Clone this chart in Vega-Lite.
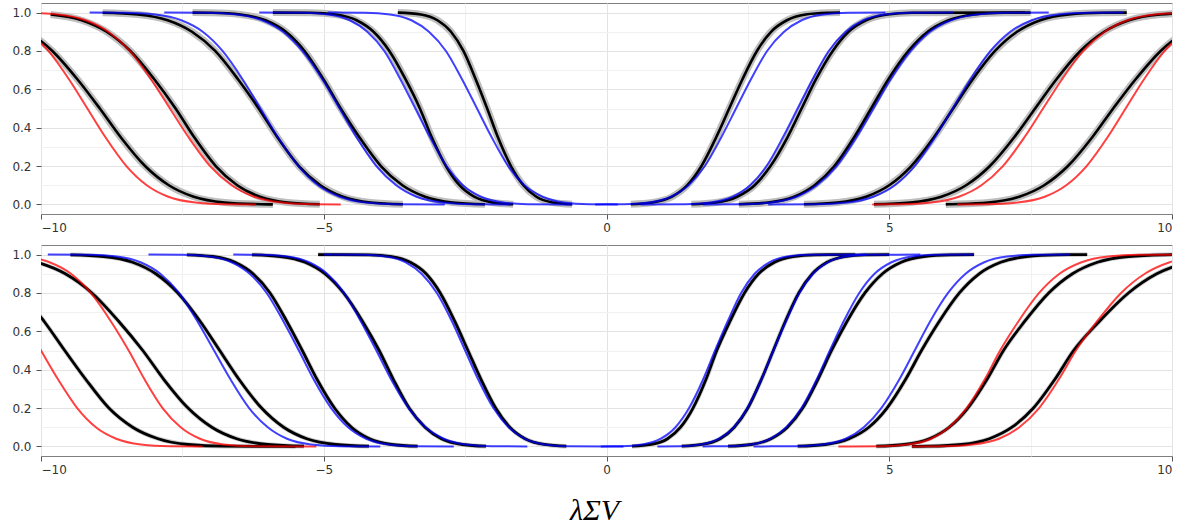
{
"$schema": "https://vega.github.io/schema/vega-lite/v6.json",
"padding": {"left": 11, "top": 2, "right": 0, "bottom": 0},
"background": "white",
"spacing": 31,
"bounds": "flush",
"datasets": {"curves": [
{"p":"top","s":"D1","k":"emp","x":-11.29,"y":0.99},{"p":"top","s":"D1","k":"emp","x":-10.71,"y":0.96},{"p":"top","s":"D1","k":"emp","x":-10.24,"y":0.9},{"p":"top","s":"D1","k":"emp","x":-9.8,"y":0.8},{"p":"top","s":"D1","k":"emp","x":-9.35,"y":0.65},{"p":"top","s":"D1","k":"emp","x":-8.96,"y":0.5},{"p":"top","s":"D1","k":"emp","x":-8.59,"y":0.35},{"p":"top","s":"D1","k":"emp","x":-8.16,"y":0.2},{"p":"top","s":"D1","k":"emp","x":-7.74,"y":0.1},{"p":"top","s":"D1","k":"emp","x":-7.3,"y":0.04},{"p":"top","s":"D1","k":"emp","x":-6.75,"y":0.01},{"p":"top","s":"D1","k":"emp","x":-6.11,"y":0.001},{"p":"top","s":"D1","k":"emp","x":-5.9,"y":0},
{"p":"top","s":"D1","k":"red","x":-11.09,"y":0.99},{"p":"top","s":"D1","k":"red","x":-10.62,"y":0.96},{"p":"top","s":"D1","k":"red","x":-10.23,"y":0.9},{"p":"top","s":"D1","k":"red","x":-9.87,"y":0.8},{"p":"top","s":"D1","k":"red","x":-9.5,"y":0.65},{"p":"top","s":"D1","k":"red","x":-9.18,"y":0.5},{"p":"top","s":"D1","k":"red","x":-8.86,"y":0.35},{"p":"top","s":"D1","k":"red","x":-8.49,"y":0.2},{"p":"top","s":"D1","k":"red","x":-8.13,"y":0.1},{"p":"top","s":"D1","k":"red","x":-7.75,"y":0.04},{"p":"top","s":"D1","k":"red","x":-7.27,"y":0.01},{"p":"top","s":"D1","k":"red","x":-6.72,"y":0.001},{"p":"top","s":"D1","k":"red","x":-6.2,"y":0},
{"p":"top","s":"D2","k":"emp","x":-9.83,"y":0.99},{"p":"top","s":"D2","k":"emp","x":-9.28,"y":0.96},{"p":"top","s":"D2","k":"emp","x":-8.84,"y":0.9},{"p":"top","s":"D2","k":"emp","x":-8.42,"y":0.8},{"p":"top","s":"D2","k":"emp","x":-7.99,"y":0.65},{"p":"top","s":"D2","k":"emp","x":-7.62,"y":0.5},{"p":"top","s":"D2","k":"emp","x":-7.29,"y":0.35},{"p":"top","s":"D2","k":"emp","x":-6.91,"y":0.2},{"p":"top","s":"D2","k":"emp","x":-6.53,"y":0.1},{"p":"top","s":"D2","k":"emp","x":-6.13,"y":0.04},{"p":"top","s":"D2","k":"emp","x":-5.64,"y":0.01},{"p":"top","s":"D2","k":"emp","x":-5.07,"y":0.001},
{"p":"top","s":"D2","k":"red","x":-10.27,"y":0.999},{"p":"top","s":"D2","k":"red","x":-9.7,"y":0.99},{"p":"top","s":"D2","k":"red","x":-9.21,"y":0.96},{"p":"top","s":"D2","k":"red","x":-8.81,"y":0.9},{"p":"top","s":"D2","k":"red","x":-8.43,"y":0.8},{"p":"top","s":"D2","k":"red","x":-8.05,"y":0.65},{"p":"top","s":"D2","k":"red","x":-7.72,"y":0.5},{"p":"top","s":"D2","k":"red","x":-7.39,"y":0.35},{"p":"top","s":"D2","k":"red","x":-7.01,"y":0.2},{"p":"top","s":"D2","k":"red","x":-6.63,"y":0.1},{"p":"top","s":"D2","k":"red","x":-6.23,"y":0.04},{"p":"top","s":"D2","k":"red","x":-5.74,"y":0.01},{"p":"top","s":"D2","k":"red","x":-5.17,"y":0.001},{"p":"top","s":"D2","k":"red","x":-4.7,"y":0},
{"p":"top","s":"D3","k":"emp","x":-8.91,"y":0.999},{"p":"top","s":"D3","k":"emp","x":-8.29,"y":0.99},{"p":"top","s":"D3","k":"emp","x":-7.76,"y":0.96},{"p":"top","s":"D3","k":"emp","x":-7.33,"y":0.9},{"p":"top","s":"D3","k":"emp","x":-6.92,"y":0.8},{"p":"top","s":"D3","k":"emp","x":-6.51,"y":0.65},{"p":"top","s":"D3","k":"emp","x":-6.15,"y":0.5},{"p":"top","s":"D3","k":"emp","x":-5.82,"y":0.35},{"p":"top","s":"D3","k":"emp","x":-5.44,"y":0.2},{"p":"top","s":"D3","k":"emp","x":-5.06,"y":0.1},{"p":"top","s":"D3","k":"emp","x":-4.66,"y":0.04},{"p":"top","s":"D3","k":"emp","x":-4.17,"y":0.01},{"p":"top","s":"D3","k":"emp","x":-3.6,"y":0.001},
{"p":"top","s":"D3","k":"blue","x":-9.14,"y":1},{"p":"top","s":"D3","k":"blue","x":-8.52,"y":0.999},{"p":"top","s":"D3","k":"blue","x":-7.98,"y":0.99},{"p":"top","s":"D3","k":"blue","x":-7.52,"y":0.96},{"p":"top","s":"D3","k":"blue","x":-7.14,"y":0.9},{"p":"top","s":"D3","k":"blue","x":-6.79,"y":0.8},{"p":"top","s":"D3","k":"blue","x":-6.43,"y":0.65},{"p":"top","s":"D3","k":"blue","x":-6.12,"y":0.5},{"p":"top","s":"D3","k":"blue","x":-5.81,"y":0.35},{"p":"top","s":"D3","k":"blue","x":-5.45,"y":0.2},{"p":"top","s":"D3","k":"blue","x":-5.1,"y":0.1},{"p":"top","s":"D3","k":"blue","x":-4.72,"y":0.04},{"p":"top","s":"D3","k":"blue","x":-4.26,"y":0.01},{"p":"top","s":"D3","k":"blue","x":-3.72,"y":0.001},{"p":"top","s":"D3","k":"blue","x":-2.86,"y":0},
{"p":"top","s":"D4","k":"emp","x":-7.32,"y":1},{"p":"top","s":"D4","k":"emp","x":-6.98,"y":0.999},{"p":"top","s":"D4","k":"emp","x":-6.47,"y":0.99},{"p":"top","s":"D4","k":"emp","x":-6.03,"y":0.96},{"p":"top","s":"D4","k":"emp","x":-5.67,"y":0.9},{"p":"top","s":"D4","k":"emp","x":-5.34,"y":0.8},{"p":"top","s":"D4","k":"emp","x":-5.0,"y":0.65},{"p":"top","s":"D4","k":"emp","x":-4.7,"y":0.5},{"p":"top","s":"D4","k":"emp","x":-4.37,"y":0.35},{"p":"top","s":"D4","k":"emp","x":-3.99,"y":0.2},{"p":"top","s":"D4","k":"emp","x":-3.61,"y":0.1},{"p":"top","s":"D4","k":"emp","x":-3.21,"y":0.04},{"p":"top","s":"D4","k":"emp","x":-2.72,"y":0.01},{"p":"top","s":"D4","k":"emp","x":-2.15,"y":0.001},
{"p":"top","s":"D4","k":"blue","x":-7.82,"y":1},{"p":"top","s":"D4","k":"blue","x":-7.06,"y":0.999},{"p":"top","s":"D4","k":"blue","x":-6.54,"y":0.99},{"p":"top","s":"D4","k":"blue","x":-6.09,"y":0.96},{"p":"top","s":"D4","k":"blue","x":-5.72,"y":0.9},{"p":"top","s":"D4","k":"blue","x":-5.38,"y":0.8},{"p":"top","s":"D4","k":"blue","x":-5.02,"y":0.65},{"p":"top","s":"D4","k":"blue","x":-4.72,"y":0.5},{"p":"top","s":"D4","k":"blue","x":-4.42,"y":0.35},{"p":"top","s":"D4","k":"blue","x":-4.07,"y":0.2},{"p":"top","s":"D4","k":"blue","x":-3.72,"y":0.1},{"p":"top","s":"D4","k":"blue","x":-3.36,"y":0.04},{"p":"top","s":"D4","k":"blue","x":-2.9,"y":0.01},{"p":"top","s":"D4","k":"blue","x":-2.38,"y":0.001},{"p":"top","s":"D4","k":"blue","x":-1.7,"y":0},
{"p":"top","s":"D5","k":"emp","x":-5.9,"y":1},{"p":"top","s":"D5","k":"emp","x":-5.22,"y":0.999},{"p":"top","s":"D5","k":"emp","x":-4.79,"y":0.99},{"p":"top","s":"D5","k":"emp","x":-4.42,"y":0.96},{"p":"top","s":"D5","k":"emp","x":-4.12,"y":0.9},{"p":"top","s":"D5","k":"emp","x":-3.84,"y":0.8},{"p":"top","s":"D5","k":"emp","x":-3.55,"y":0.65},{"p":"top","s":"D5","k":"emp","x":-3.3,"y":0.5},{"p":"top","s":"D5","k":"emp","x":-3.09,"y":0.35},{"p":"top","s":"D5","k":"emp","x":-2.84,"y":0.2},{"p":"top","s":"D5","k":"emp","x":-2.6,"y":0.1},{"p":"top","s":"D5","k":"emp","x":-2.34,"y":0.04},{"p":"top","s":"D5","k":"emp","x":-2.02,"y":0.01},{"p":"top","s":"D5","k":"emp","x":-1.65,"y":0.001},
{"p":"top","s":"D5","k":"blue","x":-6.14,"y":1},{"p":"top","s":"D5","k":"blue","x":-5.36,"y":0.999},{"p":"top","s":"D5","k":"blue","x":-4.92,"y":0.99},{"p":"top","s":"D5","k":"blue","x":-4.54,"y":0.96},{"p":"top","s":"D5","k":"blue","x":-4.23,"y":0.9},{"p":"top","s":"D5","k":"blue","x":-3.93,"y":0.8},{"p":"top","s":"D5","k":"blue","x":-3.64,"y":0.65},{"p":"top","s":"D5","k":"blue","x":-3.38,"y":0.5},{"p":"top","s":"D5","k":"blue","x":-3.12,"y":0.35},{"p":"top","s":"D5","k":"blue","x":-2.83,"y":0.2},{"p":"top","s":"D5","k":"blue","x":-2.54,"y":0.1},{"p":"top","s":"D5","k":"blue","x":-2.22,"y":0.04},{"p":"top","s":"D5","k":"blue","x":-1.83,"y":0.01},{"p":"top","s":"D5","k":"blue","x":-1.4,"y":0.001},{"p":"top","s":"D5","k":"blue","x":-0.6,"y":0},
{"p":"top","s":"D6","k":"emp","x":-3.69,"y":1},{"p":"top","s":"D6","k":"emp","x":-3.28,"y":0.99},{"p":"top","s":"D6","k":"emp","x":-2.99,"y":0.96},{"p":"top","s":"D6","k":"emp","x":-2.75,"y":0.9},{"p":"top","s":"D6","k":"emp","x":-2.53,"y":0.8},{"p":"top","s":"D6","k":"emp","x":-2.31,"y":0.65},{"p":"top","s":"D6","k":"emp","x":-2.11,"y":0.5},{"p":"top","s":"D6","k":"emp","x":-1.92,"y":0.35},{"p":"top","s":"D6","k":"emp","x":-1.69,"y":0.2},{"p":"top","s":"D6","k":"emp","x":-1.47,"y":0.1},{"p":"top","s":"D6","k":"emp","x":-1.24,"y":0.04},{"p":"top","s":"D6","k":"emp","x":-0.95,"y":0.01},{"p":"top","s":"D6","k":"emp","x":-0.61,"y":0.001},
{"p":"top","s":"D6","k":"blue","x":-4.93,"y":1},{"p":"top","s":"D6","k":"blue","x":-4.27,"y":0.999},{"p":"top","s":"D6","k":"blue","x":-3.83,"y":0.99},{"p":"top","s":"D6","k":"blue","x":-3.45,"y":0.96},{"p":"top","s":"D6","k":"blue","x":-3.14,"y":0.9},{"p":"top","s":"D6","k":"blue","x":-2.84,"y":0.8},{"p":"top","s":"D6","k":"blue","x":-2.55,"y":0.65},{"p":"top","s":"D6","k":"blue","x":-2.29,"y":0.5},{"p":"top","s":"D6","k":"blue","x":-2.03,"y":0.35},{"p":"top","s":"D6","k":"blue","x":-1.74,"y":0.2},{"p":"top","s":"D6","k":"blue","x":-1.45,"y":0.1},{"p":"top","s":"D6","k":"blue","x":-1.13,"y":0.04},{"p":"top","s":"D6","k":"blue","x":-0.75,"y":0.01},{"p":"top","s":"D6","k":"blue","x":-0.31,"y":0.001},{"p":"top","s":"D6","k":"blue","x":0.2,"y":0},
{"p":"top","s":"A","k":"emp","x":0.43,"y":0.001},{"p":"top","s":"A","k":"emp","x":0.82,"y":0.01},{"p":"top","s":"A","k":"emp","x":1.16,"y":0.04},{"p":"top","s":"A","k":"emp","x":1.43,"y":0.1},{"p":"top","s":"A","k":"emp","x":1.68,"y":0.2},{"p":"top","s":"A","k":"emp","x":1.94,"y":0.35},{"p":"top","s":"A","k":"emp","x":2.17,"y":0.5},{"p":"top","s":"A","k":"emp","x":2.4,"y":0.65},{"p":"top","s":"A","k":"emp","x":2.66,"y":0.8},{"p":"top","s":"A","k":"emp","x":2.91,"y":0.9},{"p":"top","s":"A","k":"emp","x":3.19,"y":0.96},{"p":"top","s":"A","k":"emp","x":3.52,"y":0.99},{"p":"top","s":"A","k":"emp","x":3.91,"y":0.999},{"p":"top","s":"A","k":"emp","x":4.13,"y":1},
{"p":"top","s":"A","k":"blue","x":-0.2,"y":0},{"p":"top","s":"A","k":"blue","x":0.31,"y":0.001},{"p":"top","s":"A","k":"blue","x":0.75,"y":0.01},{"p":"top","s":"A","k":"blue","x":1.14,"y":0.04},{"p":"top","s":"A","k":"blue","x":1.45,"y":0.1},{"p":"top","s":"A","k":"blue","x":1.74,"y":0.2},{"p":"top","s":"A","k":"blue","x":2.03,"y":0.35},{"p":"top","s":"A","k":"blue","x":2.29,"y":0.5},{"p":"top","s":"A","k":"blue","x":2.55,"y":0.65},{"p":"top","s":"A","k":"blue","x":2.84,"y":0.8},{"p":"top","s":"A","k":"blue","x":3.14,"y":0.9},{"p":"top","s":"A","k":"blue","x":3.45,"y":0.96},{"p":"top","s":"A","k":"blue","x":3.83,"y":0.99},{"p":"top","s":"A","k":"blue","x":4.27,"y":0.999},{"p":"top","s":"A","k":"blue","x":4.93,"y":1},
{"p":"top","s":"B","k":"emp","x":1.5,"y":0.001},{"p":"top","s":"B","k":"emp","x":1.94,"y":0.01},{"p":"top","s":"B","k":"emp","x":2.31,"y":0.04},{"p":"top","s":"B","k":"emp","x":2.62,"y":0.1},{"p":"top","s":"B","k":"emp","x":2.9,"y":0.2},{"p":"top","s":"B","k":"emp","x":3.2,"y":0.35},{"p":"top","s":"B","k":"emp","x":3.45,"y":0.5},{"p":"top","s":"B","k":"emp","x":3.7,"y":0.65},{"p":"top","s":"B","k":"emp","x":4.0,"y":0.8},{"p":"top","s":"B","k":"emp","x":4.28,"y":0.9},{"p":"top","s":"B","k":"emp","x":4.59,"y":0.96},{"p":"top","s":"B","k":"emp","x":4.97,"y":0.99},{"p":"top","s":"B","k":"emp","x":5.4,"y":0.999},{"p":"top","s":"B","k":"emp","x":7.4,"y":1},
{"p":"top","s":"B","k":"blue","x":0.6,"y":0},{"p":"top","s":"B","k":"blue","x":1.4,"y":0.001},{"p":"top","s":"B","k":"blue","x":1.84,"y":0.01},{"p":"top","s":"B","k":"blue","x":2.23,"y":0.04},{"p":"top","s":"B","k":"blue","x":2.54,"y":0.1},{"p":"top","s":"B","k":"blue","x":2.83,"y":0.2},{"p":"top","s":"B","k":"blue","x":3.12,"y":0.35},{"p":"top","s":"B","k":"blue","x":3.38,"y":0.5},{"p":"top","s":"B","k":"blue","x":3.64,"y":0.65},{"p":"top","s":"B","k":"blue","x":3.93,"y":0.8},{"p":"top","s":"B","k":"blue","x":4.23,"y":0.9},{"p":"top","s":"B","k":"blue","x":4.54,"y":0.96},{"p":"top","s":"B","k":"blue","x":4.92,"y":0.99},{"p":"top","s":"B","k":"blue","x":5.36,"y":0.999},{"p":"top","s":"B","k":"blue","x":6.14,"y":1},
{"p":"top","s":"C","k":"emp","x":2.34,"y":0.001},{"p":"top","s":"C","k":"emp","x":2.86,"y":0.01},{"p":"top","s":"C","k":"emp","x":3.32,"y":0.04},{"p":"top","s":"C","k":"emp","x":3.68,"y":0.1},{"p":"top","s":"C","k":"emp","x":4.03,"y":0.2},{"p":"top","s":"C","k":"emp","x":4.38,"y":0.35},{"p":"top","s":"C","k":"emp","x":4.68,"y":0.5},{"p":"top","s":"C","k":"emp","x":4.98,"y":0.65},{"p":"top","s":"C","k":"emp","x":5.34,"y":0.8},{"p":"top","s":"C","k":"emp","x":5.68,"y":0.9},{"p":"top","s":"C","k":"emp","x":6.05,"y":0.96},{"p":"top","s":"C","k":"emp","x":6.5,"y":0.99},{"p":"top","s":"C","k":"emp","x":7.02,"y":0.999},{"p":"top","s":"C","k":"emp","x":7.5,"y":1},
{"p":"top","s":"C","k":"blue","x":1.7,"y":0},{"p":"top","s":"C","k":"blue","x":2.38,"y":0.001},{"p":"top","s":"C","k":"blue","x":2.9,"y":0.01},{"p":"top","s":"C","k":"blue","x":3.36,"y":0.04},{"p":"top","s":"C","k":"blue","x":3.72,"y":0.1},{"p":"top","s":"C","k":"blue","x":4.07,"y":0.2},{"p":"top","s":"C","k":"blue","x":4.42,"y":0.35},{"p":"top","s":"C","k":"blue","x":4.72,"y":0.5},{"p":"top","s":"C","k":"blue","x":5.02,"y":0.65},{"p":"top","s":"C","k":"blue","x":5.38,"y":0.8},{"p":"top","s":"C","k":"blue","x":5.72,"y":0.9},{"p":"top","s":"C","k":"blue","x":6.09,"y":0.96},{"p":"top","s":"C","k":"blue","x":6.54,"y":0.99},{"p":"top","s":"C","k":"blue","x":7.06,"y":0.999},{"p":"top","s":"C","k":"blue","x":7.82,"y":1},
{"p":"top","s":"D","k":"emp","x":3.49,"y":0.001},{"p":"top","s":"D","k":"emp","x":4.08,"y":0.01},{"p":"top","s":"D","k":"emp","x":4.59,"y":0.04},{"p":"top","s":"D","k":"emp","x":5.0,"y":0.1},{"p":"top","s":"D","k":"emp","x":5.39,"y":0.2},{"p":"top","s":"D","k":"emp","x":5.79,"y":0.35},{"p":"top","s":"D","k":"emp","x":6.13,"y":0.5},{"p":"top","s":"D","k":"emp","x":6.47,"y":0.65},{"p":"top","s":"D","k":"emp","x":6.87,"y":0.8},{"p":"top","s":"D","k":"emp","x":7.26,"y":0.9},{"p":"top","s":"D","k":"emp","x":7.67,"y":0.96},{"p":"top","s":"D","k":"emp","x":8.18,"y":0.99},{"p":"top","s":"D","k":"emp","x":8.77,"y":0.999},{"p":"top","s":"D","k":"emp","x":9.2,"y":1},
{"p":"top","s":"D","k":"blue","x":2.86,"y":0},{"p":"top","s":"D","k":"blue","x":3.72,"y":0.001},{"p":"top","s":"D","k":"blue","x":4.26,"y":0.01},{"p":"top","s":"D","k":"blue","x":4.72,"y":0.04},{"p":"top","s":"D","k":"blue","x":5.1,"y":0.1},{"p":"top","s":"D","k":"blue","x":5.45,"y":0.2},{"p":"top","s":"D","k":"blue","x":5.81,"y":0.35},{"p":"top","s":"D","k":"blue","x":6.12,"y":0.5},{"p":"top","s":"D","k":"blue","x":6.43,"y":0.65},{"p":"top","s":"D","k":"blue","x":6.79,"y":0.8},{"p":"top","s":"D","k":"blue","x":7.14,"y":0.9},{"p":"top","s":"D","k":"blue","x":7.52,"y":0.96},{"p":"top","s":"D","k":"blue","x":7.98,"y":0.99},{"p":"top","s":"D","k":"blue","x":8.52,"y":0.999},{"p":"top","s":"D","k":"blue","x":9.14,"y":1},
{"p":"top","s":"E","k":"emp","x":4.73,"y":0.001},{"p":"top","s":"E","k":"emp","x":5.37,"y":0.01},{"p":"top","s":"E","k":"emp","x":5.92,"y":0.04},{"p":"top","s":"E","k":"emp","x":6.36,"y":0.1},{"p":"top","s":"E","k":"emp","x":6.78,"y":0.2},{"p":"top","s":"E","k":"emp","x":7.21,"y":0.35},{"p":"top","s":"E","k":"emp","x":7.58,"y":0.5},{"p":"top","s":"E","k":"emp","x":7.95,"y":0.65},{"p":"top","s":"E","k":"emp","x":8.38,"y":0.8},{"p":"top","s":"E","k":"emp","x":8.8,"y":0.9},{"p":"top","s":"E","k":"emp","x":9.24,"y":0.96},{"p":"top","s":"E","k":"emp","x":9.79,"y":0.99},{"p":"top","s":"E","k":"emp","x":10.43,"y":0.999},
{"p":"top","s":"E","k":"red","x":4.7,"y":0},{"p":"top","s":"E","k":"red","x":5.17,"y":0.001},{"p":"top","s":"E","k":"red","x":5.74,"y":0.01},{"p":"top","s":"E","k":"red","x":6.23,"y":0.04},{"p":"top","s":"E","k":"red","x":6.63,"y":0.1},{"p":"top","s":"E","k":"red","x":7.01,"y":0.2},{"p":"top","s":"E","k":"red","x":7.39,"y":0.35},{"p":"top","s":"E","k":"red","x":7.72,"y":0.5},{"p":"top","s":"E","k":"red","x":8.05,"y":0.65},{"p":"top","s":"E","k":"red","x":8.43,"y":0.8},{"p":"top","s":"E","k":"red","x":8.81,"y":0.9},{"p":"top","s":"E","k":"red","x":9.21,"y":0.96},{"p":"top","s":"E","k":"red","x":9.7,"y":0.99},{"p":"top","s":"E","k":"red","x":10.27,"y":0.999},
{"p":"top","s":"F","k":"emp","x":6.0,"y":0},{"p":"top","s":"F","k":"emp","x":6.11,"y":0.001},{"p":"top","s":"F","k":"emp","x":6.75,"y":0.01},{"p":"top","s":"F","k":"emp","x":7.3,"y":0.04},{"p":"top","s":"F","k":"emp","x":7.74,"y":0.1},{"p":"top","s":"F","k":"emp","x":8.16,"y":0.2},{"p":"top","s":"F","k":"emp","x":8.59,"y":0.35},{"p":"top","s":"F","k":"emp","x":8.96,"y":0.5},{"p":"top","s":"F","k":"emp","x":9.35,"y":0.65},{"p":"top","s":"F","k":"emp","x":9.8,"y":0.8},{"p":"top","s":"F","k":"emp","x":10.24,"y":0.9},{"p":"top","s":"F","k":"emp","x":10.71,"y":0.96},
{"p":"top","s":"F","k":"red","x":6.2,"y":0},{"p":"top","s":"F","k":"red","x":6.72,"y":0.001},{"p":"top","s":"F","k":"red","x":7.27,"y":0.01},{"p":"top","s":"F","k":"red","x":7.75,"y":0.04},{"p":"top","s":"F","k":"red","x":8.13,"y":0.1},{"p":"top","s":"F","k":"red","x":8.49,"y":0.2},{"p":"top","s":"F","k":"red","x":8.86,"y":0.35},{"p":"top","s":"F","k":"red","x":9.18,"y":0.5},{"p":"top","s":"F","k":"red","x":9.5,"y":0.65},{"p":"top","s":"F","k":"red","x":9.87,"y":0.8},{"p":"top","s":"F","k":"red","x":10.23,"y":0.9},{"p":"top","s":"F","k":"red","x":10.62,"y":0.96},
{"p":"bottom","s":"D1","k":"emp","x":-10.76,"y":0.9},{"p":"bottom","s":"D1","k":"emp","x":-10.35,"y":0.8},{"p":"bottom","s":"D1","k":"emp","x":-9.94,"y":0.65},{"p":"bottom","s":"D1","k":"emp","x":-9.58,"y":0.5},{"p":"bottom","s":"D1","k":"emp","x":-9.21,"y":0.35},{"p":"bottom","s":"D1","k":"emp","x":-8.8,"y":0.2},{"p":"bottom","s":"D1","k":"emp","x":-8.38,"y":0.1},{"p":"bottom","s":"D1","k":"emp","x":-7.93,"y":0.04},{"p":"bottom","s":"D1","k":"emp","x":-7.4,"y":0.01},{"p":"bottom","s":"D1","k":"emp","x":-6.78,"y":0.001},{"p":"bottom","s":"D1","k":"emp","x":-5.5,"y":0},
{"p":"bottom","s":"D1","k":"red","x":-10.64,"y":0.8},{"p":"bottom","s":"D1","k":"red","x":-10.3,"y":0.65},{"p":"bottom","s":"D1","k":"red","x":-10.0,"y":0.5},{"p":"bottom","s":"D1","k":"red","x":-9.7,"y":0.35},{"p":"bottom","s":"D1","k":"red","x":-9.36,"y":0.2},{"p":"bottom","s":"D1","k":"red","x":-9.03,"y":0.1},{"p":"bottom","s":"D1","k":"red","x":-8.67,"y":0.04},{"p":"bottom","s":"D1","k":"red","x":-8.23,"y":0.01},{"p":"bottom","s":"D1","k":"red","x":-7.72,"y":0.001},{"p":"bottom","s":"D1","k":"red","x":-7.14,"y":0},
{"p":"bottom","s":"D2","k":"emp","x":-10.69,"y":0.99},{"p":"bottom","s":"D2","k":"emp","x":-10.07,"y":0.96},{"p":"bottom","s":"D2","k":"emp","x":-9.57,"y":0.9},{"p":"bottom","s":"D2","k":"emp","x":-9.1,"y":0.8},{"p":"bottom","s":"D2","k":"emp","x":-8.62,"y":0.65},{"p":"bottom","s":"D2","k":"emp","x":-8.2,"y":0.5},{"p":"bottom","s":"D2","k":"emp","x":-7.83,"y":0.35},{"p":"bottom","s":"D2","k":"emp","x":-7.4,"y":0.2},{"p":"bottom","s":"D2","k":"emp","x":-6.98,"y":0.1},{"p":"bottom","s":"D2","k":"emp","x":-6.54,"y":0.04},{"p":"bottom","s":"D2","k":"emp","x":-5.99,"y":0.01},{"p":"bottom","s":"D2","k":"emp","x":-5.35,"y":0.001},
{"p":"bottom","s":"D2","k":"red","x":-10.85,"y":0.999},{"p":"bottom","s":"D2","k":"red","x":-10.31,"y":0.99},{"p":"bottom","s":"D2","k":"red","x":-9.85,"y":0.96},{"p":"bottom","s":"D2","k":"red","x":-9.47,"y":0.9},{"p":"bottom","s":"D2","k":"red","x":-9.12,"y":0.8},{"p":"bottom","s":"D2","k":"red","x":-8.76,"y":0.65},{"p":"bottom","s":"D2","k":"red","x":-8.45,"y":0.5},{"p":"bottom","s":"D2","k":"red","x":-8.17,"y":0.35},{"p":"bottom","s":"D2","k":"red","x":-7.85,"y":0.2},{"p":"bottom","s":"D2","k":"red","x":-7.53,"y":0.1},{"p":"bottom","s":"D2","k":"red","x":-7.19,"y":0.04},{"p":"bottom","s":"D2","k":"red","x":-6.77,"y":0.01},{"p":"bottom","s":"D2","k":"red","x":-6.29,"y":0.001},{"p":"bottom","s":"D2","k":"red","x":-5.13,"y":0},
{"p":"bottom","s":"D3","k":"emp","x":-9.48,"y":0.999},{"p":"bottom","s":"D3","k":"emp","x":-8.89,"y":0.99},{"p":"bottom","s":"D3","k":"emp","x":-8.38,"y":0.96},{"p":"bottom","s":"D3","k":"emp","x":-7.97,"y":0.9},{"p":"bottom","s":"D3","k":"emp","x":-7.58,"y":0.8},{"p":"bottom","s":"D3","k":"emp","x":-7.18,"y":0.65},{"p":"bottom","s":"D3","k":"emp","x":-6.84,"y":0.5},{"p":"bottom","s":"D3","k":"emp","x":-6.5,"y":0.35},{"p":"bottom","s":"D3","k":"emp","x":-6.1,"y":0.2},{"p":"bottom","s":"D3","k":"emp","x":-5.71,"y":0.1},{"p":"bottom","s":"D3","k":"emp","x":-5.3,"y":0.04},{"p":"bottom","s":"D3","k":"emp","x":-4.79,"y":0.01},{"p":"bottom","s":"D3","k":"emp","x":-4.2,"y":0.001},
{"p":"bottom","s":"D3","k":"blue","x":-9.88,"y":1},{"p":"bottom","s":"D3","k":"blue","x":-9.16,"y":0.999},{"p":"bottom","s":"D3","k":"blue","x":-8.66,"y":0.99},{"p":"bottom","s":"D3","k":"blue","x":-8.24,"y":0.96},{"p":"bottom","s":"D3","k":"blue","x":-7.89,"y":0.9},{"p":"bottom","s":"D3","k":"blue","x":-7.56,"y":0.8},{"p":"bottom","s":"D3","k":"blue","x":-7.23,"y":0.65},{"p":"bottom","s":"D3","k":"blue","x":-6.94,"y":0.5},{"p":"bottom","s":"D3","k":"blue","x":-6.65,"y":0.35},{"p":"bottom","s":"D3","k":"blue","x":-6.32,"y":0.2},{"p":"bottom","s":"D3","k":"blue","x":-5.99,"y":0.1},{"p":"bottom","s":"D3","k":"blue","x":-5.65,"y":0.04},{"p":"bottom","s":"D3","k":"blue","x":-5.22,"y":0.01},{"p":"bottom","s":"D3","k":"blue","x":-4.72,"y":0.001},{"p":"bottom","s":"D3","k":"blue","x":-4.0,"y":0},
{"p":"bottom","s":"D4","k":"emp","x":-7.42,"y":0.999},{"p":"bottom","s":"D4","k":"emp","x":-6.96,"y":0.99},{"p":"bottom","s":"D4","k":"emp","x":-6.57,"y":0.96},{"p":"bottom","s":"D4","k":"emp","x":-6.25,"y":0.9},{"p":"bottom","s":"D4","k":"emp","x":-5.95,"y":0.8},{"p":"bottom","s":"D4","k":"emp","x":-5.65,"y":0.65},{"p":"bottom","s":"D4","k":"emp","x":-5.38,"y":0.5},{"p":"bottom","s":"D4","k":"emp","x":-5.12,"y":0.35},{"p":"bottom","s":"D4","k":"emp","x":-4.81,"y":0.2},{"p":"bottom","s":"D4","k":"emp","x":-4.51,"y":0.1},{"p":"bottom","s":"D4","k":"emp","x":-4.19,"y":0.04},{"p":"bottom","s":"D4","k":"emp","x":-3.8,"y":0.01},{"p":"bottom","s":"D4","k":"emp","x":-3.34,"y":0.001},
{"p":"bottom","s":"D4","k":"blue","x":-8.1,"y":1},{"p":"bottom","s":"D4","k":"blue","x":-7.48,"y":0.999},{"p":"bottom","s":"D4","k":"blue","x":-7.02,"y":0.99},{"p":"bottom","s":"D4","k":"blue","x":-6.63,"y":0.96},{"p":"bottom","s":"D4","k":"blue","x":-6.31,"y":0.9},{"p":"bottom","s":"D4","k":"blue","x":-6.01,"y":0.8},{"p":"bottom","s":"D4","k":"blue","x":-5.71,"y":0.65},{"p":"bottom","s":"D4","k":"blue","x":-5.44,"y":0.5},{"p":"bottom","s":"D4","k":"blue","x":-5.18,"y":0.35},{"p":"bottom","s":"D4","k":"blue","x":-4.87,"y":0.2},{"p":"bottom","s":"D4","k":"blue","x":-4.57,"y":0.1},{"p":"bottom","s":"D4","k":"blue","x":-4.25,"y":0.04},{"p":"bottom","s":"D4","k":"blue","x":-3.86,"y":0.01},{"p":"bottom","s":"D4","k":"blue","x":-3.4,"y":0.001},{"p":"bottom","s":"D4","k":"blue","x":-2.7,"y":0},
{"p":"bottom","s":"D5","k":"emp","x":-6.27,"y":0.999},{"p":"bottom","s":"D5","k":"emp","x":-5.77,"y":0.99},{"p":"bottom","s":"D5","k":"emp","x":-5.33,"y":0.96},{"p":"bottom","s":"D5","k":"emp","x":-4.98,"y":0.9},{"p":"bottom","s":"D5","k":"emp","x":-4.65,"y":0.8},{"p":"bottom","s":"D5","k":"emp","x":-4.31,"y":0.65},{"p":"bottom","s":"D5","k":"emp","x":-4.02,"y":0.5},{"p":"bottom","s":"D5","k":"emp","x":-3.77,"y":0.35},{"p":"bottom","s":"D5","k":"emp","x":-3.49,"y":0.2},{"p":"bottom","s":"D5","k":"emp","x":-3.21,"y":0.1},{"p":"bottom","s":"D5","k":"emp","x":-2.92,"y":0.04},{"p":"bottom","s":"D5","k":"emp","x":-2.55,"y":0.01},{"p":"bottom","s":"D5","k":"emp","x":-2.13,"y":0.001},
{"p":"bottom","s":"D5","k":"blue","x":-6.6,"y":1},{"p":"bottom","s":"D5","k":"blue","x":-6.11,"y":0.999},{"p":"bottom","s":"D5","k":"blue","x":-5.65,"y":0.99},{"p":"bottom","s":"D5","k":"blue","x":-5.26,"y":0.96},{"p":"bottom","s":"D5","k":"blue","x":-4.94,"y":0.9},{"p":"bottom","s":"D5","k":"blue","x":-4.64,"y":0.8},{"p":"bottom","s":"D5","k":"blue","x":-4.34,"y":0.65},{"p":"bottom","s":"D5","k":"blue","x":-4.07,"y":0.5},{"p":"bottom","s":"D5","k":"blue","x":-3.81,"y":0.35},{"p":"bottom","s":"D5","k":"blue","x":-3.5,"y":0.2},{"p":"bottom","s":"D5","k":"blue","x":-3.2,"y":0.1},{"p":"bottom","s":"D5","k":"blue","x":-2.88,"y":0.04},{"p":"bottom","s":"D5","k":"blue","x":-2.49,"y":0.01},{"p":"bottom","s":"D5","k":"blue","x":-2.03,"y":0.001},{"p":"bottom","s":"D5","k":"blue","x":-1.4,"y":0},
{"p":"bottom","s":"D6","k":"emp","x":-5.1,"y":1},{"p":"bottom","s":"D6","k":"emp","x":-4.19,"y":0.999},{"p":"bottom","s":"D6","k":"emp","x":-3.8,"y":0.99},{"p":"bottom","s":"D6","k":"emp","x":-3.47,"y":0.96},{"p":"bottom","s":"D6","k":"emp","x":-3.19,"y":0.9},{"p":"bottom","s":"D6","k":"emp","x":-2.94,"y":0.8},{"p":"bottom","s":"D6","k":"emp","x":-2.68,"y":0.65},{"p":"bottom","s":"D6","k":"emp","x":-2.45,"y":0.5},{"p":"bottom","s":"D6","k":"emp","x":-2.22,"y":0.35},{"p":"bottom","s":"D6","k":"emp","x":-1.96,"y":0.2},{"p":"bottom","s":"D6","k":"emp","x":-1.71,"y":0.1},{"p":"bottom","s":"D6","k":"emp","x":-1.44,"y":0.04},{"p":"bottom","s":"D6","k":"emp","x":-1.1,"y":0.01},{"p":"bottom","s":"D6","k":"emp","x":-0.71,"y":0.001},
{"p":"bottom","s":"D6","k":"blue","x":-5.0,"y":1},{"p":"bottom","s":"D6","k":"blue","x":-4.3,"y":0.999},{"p":"bottom","s":"D6","k":"blue","x":-3.9,"y":0.99},{"p":"bottom","s":"D6","k":"blue","x":-3.55,"y":0.96},{"p":"bottom","s":"D6","k":"blue","x":-3.27,"y":0.9},{"p":"bottom","s":"D6","k":"blue","x":-3.0,"y":0.8},{"p":"bottom","s":"D6","k":"blue","x":-2.73,"y":0.65},{"p":"bottom","s":"D6","k":"blue","x":-2.5,"y":0.5},{"p":"bottom","s":"D6","k":"blue","x":-2.27,"y":0.35},{"p":"bottom","s":"D6","k":"blue","x":-2.0,"y":0.2},{"p":"bottom","s":"D6","k":"blue","x":-1.73,"y":0.1},{"p":"bottom","s":"D6","k":"blue","x":-1.45,"y":0.04},{"p":"bottom","s":"D6","k":"blue","x":-1.1,"y":0.01},{"p":"bottom","s":"D6","k":"blue","x":-0.7,"y":0.001},{"p":"bottom","s":"D6","k":"blue","x":0.3,"y":0},
{"p":"bottom","s":"A","k":"emp","x":0.45,"y":0.001},{"p":"bottom","s":"A","k":"emp","x":0.79,"y":0.01},{"p":"bottom","s":"A","k":"emp","x":1.08,"y":0.04},{"p":"bottom","s":"A","k":"emp","x":1.31,"y":0.1},{"p":"bottom","s":"A","k":"emp","x":1.53,"y":0.2},{"p":"bottom","s":"A","k":"emp","x":1.76,"y":0.35},{"p":"bottom","s":"A","k":"emp","x":1.95,"y":0.5},{"p":"bottom","s":"A","k":"emp","x":2.18,"y":0.65},{"p":"bottom","s":"A","k":"emp","x":2.44,"y":0.8},{"p":"bottom","s":"A","k":"emp","x":2.69,"y":0.9},{"p":"bottom","s":"A","k":"emp","x":2.97,"y":0.96},{"p":"bottom","s":"A","k":"emp","x":3.3,"y":0.99},{"p":"bottom","s":"A","k":"emp","x":3.69,"y":0.999},{"p":"bottom","s":"A","k":"emp","x":4.4,"y":1},
{"p":"bottom","s":"A","k":"blue","x":-0.1,"y":0},{"p":"bottom","s":"A","k":"blue","x":0.27,"y":0.001},{"p":"bottom","s":"A","k":"blue","x":0.64,"y":0.01},{"p":"bottom","s":"A","k":"blue","x":0.96,"y":0.04},{"p":"bottom","s":"A","k":"blue","x":1.22,"y":0.1},{"p":"bottom","s":"A","k":"blue","x":1.46,"y":0.2},{"p":"bottom","s":"A","k":"blue","x":1.71,"y":0.35},{"p":"bottom","s":"A","k":"blue","x":1.92,"y":0.5},{"p":"bottom","s":"A","k":"blue","x":2.14,"y":0.65},{"p":"bottom","s":"A","k":"blue","x":2.38,"y":0.8},{"p":"bottom","s":"A","k":"blue","x":2.62,"y":0.9},{"p":"bottom","s":"A","k":"blue","x":2.88,"y":0.96},{"p":"bottom","s":"A","k":"blue","x":3.2,"y":0.99},{"p":"bottom","s":"A","k":"blue","x":3.57,"y":0.999},{"p":"bottom","s":"A","k":"blue","x":4.6,"y":1},
{"p":"bottom","s":"B","k":"emp","x":1.33,"y":0.001},{"p":"bottom","s":"B","k":"emp","x":1.69,"y":0.01},{"p":"bottom","s":"B","k":"emp","x":2.01,"y":0.04},{"p":"bottom","s":"B","k":"emp","x":2.26,"y":0.1},{"p":"bottom","s":"B","k":"emp","x":2.5,"y":0.2},{"p":"bottom","s":"B","k":"emp","x":2.74,"y":0.35},{"p":"bottom","s":"B","k":"emp","x":2.95,"y":0.5},{"p":"bottom","s":"B","k":"emp","x":3.16,"y":0.65},{"p":"bottom","s":"B","k":"emp","x":3.4,"y":0.8},{"p":"bottom","s":"B","k":"emp","x":3.64,"y":0.9},{"p":"bottom","s":"B","k":"emp","x":3.9,"y":0.96},{"p":"bottom","s":"B","k":"emp","x":4.21,"y":0.99},{"p":"bottom","s":"B","k":"emp","x":4.57,"y":0.999},{"p":"bottom","s":"B","k":"emp","x":5.0,"y":1},
{"p":"bottom","s":"B","k":"blue","x":0.9,"y":0},{"p":"bottom","s":"B","k":"blue","x":1.3,"y":0.001},{"p":"bottom","s":"B","k":"blue","x":1.67,"y":0.01},{"p":"bottom","s":"B","k":"blue","x":1.99,"y":0.04},{"p":"bottom","s":"B","k":"blue","x":2.25,"y":0.1},{"p":"bottom","s":"B","k":"blue","x":2.49,"y":0.2},{"p":"bottom","s":"B","k":"blue","x":2.74,"y":0.35},{"p":"bottom","s":"B","k":"blue","x":2.95,"y":0.5},{"p":"bottom","s":"B","k":"blue","x":3.17,"y":0.65},{"p":"bottom","s":"B","k":"blue","x":3.41,"y":0.8},{"p":"bottom","s":"B","k":"blue","x":3.65,"y":0.9},{"p":"bottom","s":"B","k":"blue","x":3.91,"y":0.96},{"p":"bottom","s":"B","k":"blue","x":4.23,"y":0.99},{"p":"bottom","s":"B","k":"blue","x":4.6,"y":0.999},{"p":"bottom","s":"B","k":"blue","x":5.55,"y":1},
{"p":"bottom","s":"C","k":"emp","x":2.15,"y":0.001},{"p":"bottom","s":"C","k":"emp","x":2.56,"y":0.01},{"p":"bottom","s":"C","k":"emp","x":2.91,"y":0.04},{"p":"bottom","s":"C","k":"emp","x":3.2,"y":0.1},{"p":"bottom","s":"C","k":"emp","x":3.47,"y":0.2},{"p":"bottom","s":"C","k":"emp","x":3.74,"y":0.35},{"p":"bottom","s":"C","k":"emp","x":3.98,"y":0.5},{"p":"bottom","s":"C","k":"emp","x":4.25,"y":0.65},{"p":"bottom","s":"C","k":"emp","x":4.57,"y":0.8},{"p":"bottom","s":"C","k":"emp","x":4.88,"y":0.9},{"p":"bottom","s":"C","k":"emp","x":5.21,"y":0.96},{"p":"bottom","s":"C","k":"emp","x":5.61,"y":0.99},{"p":"bottom","s":"C","k":"emp","x":6.08,"y":0.999},{"p":"bottom","s":"C","k":"emp","x":6.5,"y":1},
{"p":"bottom","s":"C","k":"blue","x":1.7,"y":0},{"p":"bottom","s":"C","k":"blue","x":2.15,"y":0.001},{"p":"bottom","s":"C","k":"blue","x":2.55,"y":0.01},{"p":"bottom","s":"C","k":"blue","x":2.9,"y":0.04},{"p":"bottom","s":"C","k":"blue","x":3.18,"y":0.1},{"p":"bottom","s":"C","k":"blue","x":3.45,"y":0.2},{"p":"bottom","s":"C","k":"blue","x":3.72,"y":0.35},{"p":"bottom","s":"C","k":"blue","x":3.95,"y":0.5},{"p":"bottom","s":"C","k":"blue","x":4.19,"y":0.65},{"p":"bottom","s":"C","k":"blue","x":4.47,"y":0.8},{"p":"bottom","s":"C","k":"blue","x":4.74,"y":0.9},{"p":"bottom","s":"C","k":"blue","x":5.04,"y":0.96},{"p":"bottom","s":"C","k":"blue","x":5.4,"y":0.99},{"p":"bottom","s":"C","k":"blue","x":5.81,"y":0.999},{"p":"bottom","s":"C","k":"blue","x":6.5,"y":1},
{"p":"bottom","s":"D","k":"emp","x":3.38,"y":0.001},{"p":"bottom","s":"D","k":"emp","x":3.87,"y":0.01},{"p":"bottom","s":"D","k":"emp","x":4.29,"y":0.04},{"p":"bottom","s":"D","k":"emp","x":4.64,"y":0.1},{"p":"bottom","s":"D","k":"emp","x":4.96,"y":0.2},{"p":"bottom","s":"D","k":"emp","x":5.29,"y":0.35},{"p":"bottom","s":"D","k":"emp","x":5.57,"y":0.5},{"p":"bottom","s":"D","k":"emp","x":5.88,"y":0.65},{"p":"bottom","s":"D","k":"emp","x":6.24,"y":0.8},{"p":"bottom","s":"D","k":"emp","x":6.59,"y":0.9},{"p":"bottom","s":"D","k":"emp","x":6.97,"y":0.96},{"p":"bottom","s":"D","k":"emp","x":7.43,"y":0.99},{"p":"bottom","s":"D","k":"emp","x":7.97,"y":0.999},{"p":"bottom","s":"D","k":"emp","x":8.5,"y":1},
{"p":"bottom","s":"D","k":"blue","x":2.6,"y":0},{"p":"bottom","s":"D","k":"blue","x":3.35,"y":0.001},{"p":"bottom","s":"D","k":"blue","x":3.82,"y":0.01},{"p":"bottom","s":"D","k":"blue","x":4.23,"y":0.04},{"p":"bottom","s":"D","k":"blue","x":4.55,"y":0.1},{"p":"bottom","s":"D","k":"blue","x":4.86,"y":0.2},{"p":"bottom","s":"D","k":"blue","x":5.18,"y":0.35},{"p":"bottom","s":"D","k":"blue","x":5.45,"y":0.5},{"p":"bottom","s":"D","k":"blue","x":5.72,"y":0.65},{"p":"bottom","s":"D","k":"blue","x":6.04,"y":0.8},{"p":"bottom","s":"D","k":"blue","x":6.35,"y":0.9},{"p":"bottom","s":"D","k":"blue","x":6.68,"y":0.96},{"p":"bottom","s":"D","k":"blue","x":7.08,"y":0.99},{"p":"bottom","s":"D","k":"blue","x":7.55,"y":0.999},{"p":"bottom","s":"D","k":"blue","x":8.2,"y":1},
{"p":"bottom","s":"E","k":"emp","x":4.77,"y":0.001},{"p":"bottom","s":"E","k":"emp","x":5.27,"y":0.01},{"p":"bottom","s":"E","k":"emp","x":5.71,"y":0.04},{"p":"bottom","s":"E","k":"emp","x":6.06,"y":0.1},{"p":"bottom","s":"E","k":"emp","x":6.39,"y":0.2},{"p":"bottom","s":"E","k":"emp","x":6.73,"y":0.35},{"p":"bottom","s":"E","k":"emp","x":7.02,"y":0.5},{"p":"bottom","s":"E","k":"emp","x":7.39,"y":0.65},{"p":"bottom","s":"E","k":"emp","x":7.82,"y":0.8},{"p":"bottom","s":"E","k":"emp","x":8.24,"y":0.9},{"p":"bottom","s":"E","k":"emp","x":8.68,"y":0.96},{"p":"bottom","s":"E","k":"emp","x":9.23,"y":0.99},{"p":"bottom","s":"E","k":"emp","x":9.87,"y":0.999},{"p":"bottom","s":"E","k":"emp","x":10.2,"y":1},
{"p":"bottom","s":"E","k":"red","x":4.1,"y":0},{"p":"bottom","s":"E","k":"red","x":4.86,"y":0.001},{"p":"bottom","s":"E","k":"red","x":5.33,"y":0.01},{"p":"bottom","s":"E","k":"red","x":5.74,"y":0.04},{"p":"bottom","s":"E","k":"red","x":6.06,"y":0.1},{"p":"bottom","s":"E","k":"red","x":6.37,"y":0.2},{"p":"bottom","s":"E","k":"red","x":6.69,"y":0.35},{"p":"bottom","s":"E","k":"red","x":6.96,"y":0.5},{"p":"bottom","s":"E","k":"red","x":7.28,"y":0.65},{"p":"bottom","s":"E","k":"red","x":7.65,"y":0.8},{"p":"bottom","s":"E","k":"red","x":8.01,"y":0.9},{"p":"bottom","s":"E","k":"red","x":8.4,"y":0.96},{"p":"bottom","s":"E","k":"red","x":8.87,"y":0.99},{"p":"bottom","s":"E","k":"red","x":9.42,"y":0.999},{"p":"bottom","s":"E","k":"red","x":10.5,"y":1},
{"p":"bottom","s":"F","k":"emp","x":5.4,"y":0},{"p":"bottom","s":"F","k":"emp","x":5.71,"y":0.001},{"p":"bottom","s":"F","k":"emp","x":6.28,"y":0.01},{"p":"bottom","s":"F","k":"emp","x":6.77,"y":0.04},{"p":"bottom","s":"F","k":"emp","x":7.17,"y":0.1},{"p":"bottom","s":"F","k":"emp","x":7.55,"y":0.2},{"p":"bottom","s":"F","k":"emp","x":7.93,"y":0.35},{"p":"bottom","s":"F","k":"emp","x":8.26,"y":0.5},{"p":"bottom","s":"F","k":"emp","x":8.71,"y":0.65},{"p":"bottom","s":"F","k":"emp","x":9.23,"y":0.8},{"p":"bottom","s":"F","k":"emp","x":9.73,"y":0.9},{"p":"bottom","s":"F","k":"emp","x":10.27,"y":0.96},
{"p":"bottom","s":"F","k":"red","x":5.4,"y":0},{"p":"bottom","s":"F","k":"red","x":5.96,"y":0.001},{"p":"bottom","s":"F","k":"red","x":6.48,"y":0.01},{"p":"bottom","s":"F","k":"red","x":6.94,"y":0.04},{"p":"bottom","s":"F","k":"red","x":7.3,"y":0.1},{"p":"bottom","s":"F","k":"red","x":7.65,"y":0.2},{"p":"bottom","s":"F","k":"red","x":8.0,"y":0.35},{"p":"bottom","s":"F","k":"red","x":8.3,"y":0.5},{"p":"bottom","s":"F","k":"red","x":8.67,"y":0.65},{"p":"bottom","s":"F","k":"red","x":9.1,"y":0.8},{"p":"bottom","s":"F","k":"red","x":9.52,"y":0.9},{"p":"bottom","s":"F","k":"red","x":9.96,"y":0.96},{"p":"bottom","s":"F","k":"red","x":10.51,"y":0.99}
]},
"data": {"name": "curves"},
"config": {
  "view": {"stroke": "#7F7F7F", "strokeWidth": 1},
  "axis": {"labelFont": "DejaVu Sans", "labelFontSize": 12, "labelColor": "#333333", "tickColor": "#555555", "tickSize": 5, "domain": false, "gridColor": "#E3E3E3", "gridWidth": 1}
},
"vconcat": [
{
  "width": 1131, "height": 211,
  "transform": [{"filter": "datum.p === 'top'"}],
  "resolve": {"axis": {"x": "independent", "y": "independent"}},
  "layer": [
    {"transform": [{"filter": "datum.k === 'emp'"}],
     "mark": {"type": "line", "opacity": 0, "clip": true},
     "encoding": {
       "x": {"field": "x", "type": "quantitative", "scale": {"domain": [-10, 10], "nice": false, "zero": false}, "axis": {"orient": "bottom", "values": [-7.5, -2.5, 2.5, 7.5], "labels": false, "ticks": false, "domain": false, "title": null, "grid": true, "gridColor": "#F1F1F1"}},
       "y": {"field": "y", "type": "quantitative", "scale": {"domain": [-0.05, 1.05], "nice": false, "zero": false}, "axis": {"orient": "left", "values": [0.1, 0.3, 0.5, 0.7, 0.9], "labels": false, "ticks": false, "domain": false, "title": null, "grid": true, "gridColor": "#F1F1F1"}},
       "detail": {"field": "s"}}},
    {"transform": [{"filter": "datum.k === 'emp'"}],
     "mark": {"type": "line", "color": "#BEBEBE", "strokeWidth": 7, "interpolate": "monotone", "clip": true},
     "encoding": {
       "x": {"field": "x", "type": "quantitative", "axis": {"orient": "bottom", "values": [-10, -5, 0, 5, 10], "grid": true, "title": null, "labelPadding": 3}},
       "y": {"field": "y", "type": "quantitative", "axis": {"orient": "left", "values": [0, 0.2, 0.4, 0.6, 0.8, 1], "format": ".1f", "grid": true, "title": null, "labelPadding": 5}},
       "detail": {"field": "s"}}},
    {"transform": [{"filter": "datum.k === 'emp'"}],
     "mark": {"type": "line", "color": "#000000", "strokeWidth": 2.6, "interpolate": "monotone", "clip": true},
     "encoding": {
       "x": {"field": "x", "type": "quantitative", "axis": null},
       "y": {"field": "y", "type": "quantitative", "axis": null},
       "detail": {"field": "s"}}},
    {"transform": [{"filter": "datum.k !== 'emp'"}],
     "mark": {"type": "line", "strokeWidth": 2, "opacity": 0.75, "interpolate": "monotone", "clip": true},
     "encoding": {
       "x": {"field": "x", "type": "quantitative", "axis": null},
       "y": {"field": "y", "type": "quantitative", "axis": null},
       "color": {"field": "k", "type": "nominal", "scale": {"domain": ["blue", "red"], "range": ["#0000FF", "#FF0000"]}, "legend": null},
       "detail": {"field": "s"}}}
  ]
},
{
  "width": 1131, "height": 211,
  "transform": [{"filter": "datum.p === 'bottom'"}],
  "resolve": {"axis": {"x": "independent", "y": "independent"}},
  "layer": [
    {"transform": [{"filter": "datum.k === 'emp'"}],
     "mark": {"type": "line", "opacity": 0, "clip": true},
     "encoding": {
       "x": {"field": "x", "type": "quantitative", "scale": {"domain": [-10, 10], "nice": false, "zero": false}, "axis": {"orient": "bottom", "values": [-7.5, -2.5, 2.5, 7.5], "labels": false, "ticks": false, "domain": false, "title": null, "grid": true, "gridColor": "#F1F1F1"}},
       "y": {"field": "y", "type": "quantitative", "scale": {"domain": [-0.05, 1.05], "nice": false, "zero": false}, "axis": {"orient": "left", "values": [0.1, 0.3, 0.5, 0.7, 0.9], "labels": false, "ticks": false, "domain": false, "title": null, "grid": true, "gridColor": "#F1F1F1"}},
       "detail": {"field": "s"}}},
    {"transform": [{"filter": "datum.k === 'emp'"}],
     "mark": {"type": "line", "color": "#CCCCCC", "strokeWidth": 4.5, "interpolate": "monotone", "clip": true},
     "encoding": {
       "x": {"field": "x", "type": "quantitative", "axis": {"orient": "bottom", "values": [-10, -5, 0, 5, 10], "grid": true, "labelPadding": 3, "title": "λΣV", "titleFont": "Liberation Serif", "titleFontStyle": "italic", "titleFontWeight": "normal", "titleFontSize": 30, "titleColor": "#000000", "titlePadding": 20, "titleX": 553}},
       "y": {"field": "y", "type": "quantitative", "axis": {"orient": "left", "values": [0, 0.2, 0.4, 0.6, 0.8, 1], "format": ".1f", "grid": true, "title": null, "labelPadding": 5}},
       "detail": {"field": "s"}}},
    {"transform": [{"filter": "datum.k === 'emp'"}],
     "mark": {"type": "line", "color": "#000000", "strokeWidth": 2.8, "interpolate": "monotone", "clip": true},
     "encoding": {
       "x": {"field": "x", "type": "quantitative", "axis": null},
       "y": {"field": "y", "type": "quantitative", "axis": null},
       "detail": {"field": "s"}}},
    {"transform": [{"filter": "datum.k !== 'emp'"}],
     "mark": {"type": "line", "strokeWidth": 2, "opacity": 0.75, "interpolate": "monotone", "clip": true},
     "encoding": {
       "x": {"field": "x", "type": "quantitative", "axis": null},
       "y": {"field": "y", "type": "quantitative", "axis": null},
       "color": {"field": "k", "type": "nominal", "scale": {"domain": ["blue", "red"], "range": ["#0000FF", "#FF0000"]}, "legend": null},
       "detail": {"field": "s"}}}
  ]
}
]
}
